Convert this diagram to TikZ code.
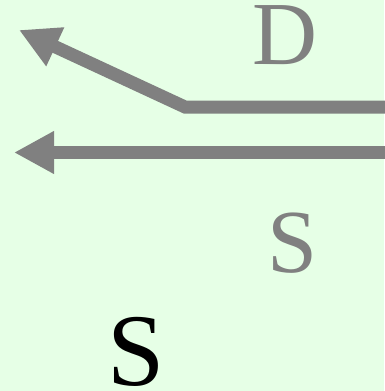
\documentclass[tikz,border=0pt]{standalone}
\usepackage{fontspec}
\setmainfont{Liberation Serif}
\usetikzlibrary{arrows.meta}
\definecolor{bgc}{HTML}{E6FFE6}
\definecolor{gr}{HTML}{808080}
\begin{document}
\begin{tikzpicture}[x=1pt,y=-1pt,
  arr/.style={draw=gr,line width=13pt,-{Triangle[length=40pt,width=40pt]}},
  lbl/.style={inner sep=0pt,text=gr,font=\fontsize{90}{90}\selectfont},
  big/.style={inner sep=0pt,text=black,font=\fontsize{103}{103}\selectfont}]
\fill[bgc] (0,0) rectangle (384,391);
\useasboundingbox (0,0) rectangle (384,391);
\coordinate (r1) at (392,107);
\coordinate (k) at (185,107);
\coordinate (t1) at (19,30);
\coordinate (r2) at (392,152.5);
\coordinate (t2) at (14,152.5);
\draw[arr] (r1) -- (k) -- (t1);
\draw[arr] (r2) -- (t2);
\node[lbl] (d) at (285,35) {D};
\node[lbl] (s1) at (293,243) {S};
\node[big] (s2) at (136,352) {S};
\end{tikzpicture}
\end{document}
